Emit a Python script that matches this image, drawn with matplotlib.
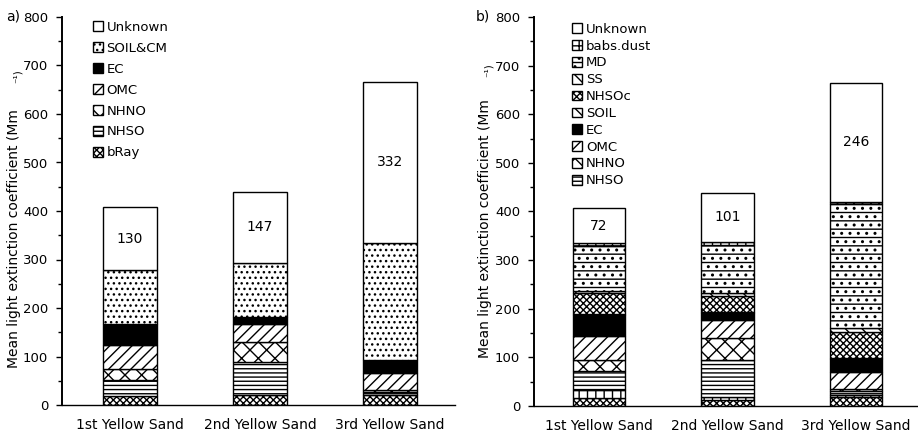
import matplotlib
matplotlib.use("Agg")
import matplotlib.pyplot as plt
import numpy as np

plt.rcParams['font.family'] = ['DejaVu Sans']
plt.rcParams['hatch.linewidth'] = 1.0

categories = ["1st Yellow Sand", "2nd Yellow Sand", "3rd Yellow Sand"]

# Panel a) components, bottom to top
a_series = ["bRay", "NHSO", "NHNO", "OMC", "EC", "SOIL&CM", "Unknown"]
a_bRay = [18, 20, 20]
a_NHSO = [33, 68, 6]
a_NHNO = [24, 41, 4]
a_OMC = [48, 37, 35]
a_EC = [45, 15, 27]
a_SOILCM = [110, 112, 243]
a_Unknown = [130, 147, 332]

# Panel b) components, bottom to top (two lowest segments are not in the legend)
b_series = ["unlabeled_1", "unlabeled_2", "NHSO", "NHNO", "OMC", "EC", "SOIL",
            "NHSOc", "SS", "MD", "babs.dust", "Unknown"]
b_unl1 = [16, 12, 18]
b_unl2 = [17, 7, 5]
b_NHSO = [38, 76, 8]
b_NHNO = [24, 44, 3]
b_OMC = [48, 37, 36]
b_EC = [44, 15, 26]
b_SOIL = [2, 2, 2]
b_NHSOc = [43, 33, 55]
b_SS = [5, 6, 7]
b_MD = [93, 100, 256]
b_babs = [5, 6, 3]
b_Unknown = [72, 101, 246]

a_values = [a_bRay, a_NHSO, a_NHNO, a_OMC, a_EC, a_SOILCM, a_Unknown]
b_values = [b_unl1, b_unl2, b_NHSO, b_NHNO, b_OMC, b_EC, b_SOIL,
            b_NHSOc, b_SS, b_MD, b_babs, b_Unknown]

a_styles = {
    "bRay": ("white", "xxxxx"),
    "NHSO": ("white", "----"),
    "NHNO": ("white", "xx"),
    "OMC": ("white", "///"),
    "EC": ("black", ""),
    "SOIL&CM": ("white", "..."),
    "Unknown": ("white", ""),
}
b_styles = {
    "unlabeled_1": ("white", "xxxxx"),
    "unlabeled_2": ("white", "||"),
    "NHSO": ("white", "----"),
    "NHNO": ("white", "xx"),
    "OMC": ("white", "///"),
    "EC": ("black", ""),
    "SOIL": ("white", "\\\\\\"),
    "NHSOc": ("white", "xxxxx"),
    "SS": ("white", "\\\\"),
    "MD": ("white", "--.."),
    "babs.dust": ("white", "++"),
    "Unknown": ("white", ""),
}

W, H = 918, 436
fig = plt.figure(figsize=(W / 100, H / 100), dpi=100)


def draw(rect, names, values, styles, xlim, width, legend_labels, leg_anchor, leg_spacing):
    ax = fig.add_axes(rect)
    x = np.arange(len(categories))
    bottom = np.zeros(len(categories))
    handles = {}
    for name, vals in zip(names, values):
        fc, hatch = styles[name]
        vals = np.array(vals, dtype=float)
        bars = ax.bar(x, vals, width, bottom=bottom, color=fc, edgecolor="black",
                      hatch=hatch, linewidth=1.0, label=name)
        handles[name] = bars
        bottom += vals
    # value labels for Unknown (top segment)
    unk = np.array(values[-1], dtype=float)
    for xi, b, u in zip(x, bottom, unk):
        ax.text(xi, b - u / 2, f"{int(u)}", ha="center", va="center", fontsize=10)
    ax.set_xlim(*xlim)
    ax.set_ylim(0, 800)
    ax.set_yticks(np.arange(0, 801, 100))
    ax.set_yticks(np.arange(0, 801, 50), minor=True)
    ax.tick_params(axis="y", which="major", length=4, width=1, labelsize=9.5, pad=6)
    ax.tick_params(axis="y", which="minor", length=3, width=1)
    ax.set_xticks(x)
    ax.set_xticklabels(categories, fontsize=10)
    ax.tick_params(axis="x", length=0, pad=9)
    for s in ("top", "right"):
        ax.spines[s].set_visible(False)
    ax.spines["left"].set_linewidth(1.4)
    ax.spines["bottom"].set_linewidth(1.0)
    ax.patch.set_alpha(0)
    hs = [handles[n] for n in legend_labels]
    ax.legend(hs, legend_labels, loc="upper left", bbox_to_anchor=leg_anchor,
              frameon=False, fontsize=9.5, handlelength=0.75, handleheight=0.75,
              handletextpad=0.3, labelspacing=leg_spacing, borderpad=0, borderaxespad=0)
    return ax


ax1 = draw([62 / W, 1 - 405 / H, 393 / W, 388 / H], a_series, a_values, a_styles,
           (-0.523, 2.5), 0.415,
           ["Unknown", "SOIL&CM", "EC", "OMC", "NHNO", "NHSO", "bRay"],
           (0.078, 0.99), 0.6)
ax2 = draw([534 / W, 1 - 406 / H, 383 / W, 389 / H], b_series, b_values, b_styles,
           (-0.506, 2.475), 0.405,
           ["Unknown", "babs.dust", "MD", "SS", "NHSOc", "SOIL", "EC", "OMC", "NHNO", "NHSO"],
           (0.1, 0.985), 0.29)

# panel letters
fig.text(6 / W, 1 - 17 / H, "a)", fontsize=10, ha="left", va="center")
fig.text(476 / W, 1 - 17 / H, "b)", fontsize=10, ha="left", va="center")

# y labels
ylab = "Mean light extinction coefficient (Mm"
fig.text(14 / W, 1 - 368 / H, ylab, rotation=90, fontsize=10, ha="center", va="bottom")
fig.text(18 / W, 1 - 76 / H, "\u207b\u00b9)", rotation=90, fontsize=7.5, ha="center", va="center")
fig.text(485 / W, 1 - 358 / H, ylab, rotation=90, fontsize=10, ha="center", va="bottom")
fig.text(489 / W, 1 - 70 / H, "\u207b\u00b9)", rotation=90, fontsize=7.5, ha="center", va="center")

fig.savefig("out.png", dpi=100)
